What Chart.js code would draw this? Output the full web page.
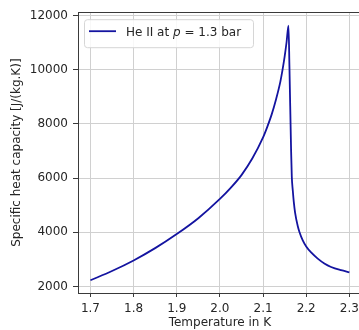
<!DOCTYPE html>
<html><head><meta charset="utf-8">
<script src="https://cdn.jsdelivr.net/npm/chart.js@4/dist/chart.umd.min.js"></script>
<style>
html,body{margin:0;padding:0;background:#fff;overflow:hidden;width:359px;height:330px}
#wrap{width:359px;height:330px;overflow:hidden;position:relative}
canvas{display:block}
</style></head><body>
<div id="wrap"><canvas id="c" width="364" height="330"></canvas></div>
<script>
const temperatures = [1.70,1.75,1.80,1.85,1.90,1.95,2.00,2.025,2.05,2.075,2.10,2.11,2.12,2.13,2.14,2.145,2.15,2.1546,2.1589,2.1612,2.165,2.1666,2.1689,2.1712,2.1743,2.1805,2.1843,2.192,2.20,2.2113,2.2267,2.242,2.2576,2.2807,2.30];
const heatCapacity = [2230,2570,2960,3415,3935,4520,5230,5640,6110,6720,7500,7900,8350,8900,9550,9980,10480,11030,11620,10050,7000,6050,5540,5120,4720,4220,4010,3700,3475,3255,3030,2850,2720,2600,2525];
const xTickValues = [1.7,1.8,1.9,2.0,2.1,2.2,2.3];
const yTickValues = [2000,4000,6000,8000,10000,12000];
const seriesLabel = ['He II at ', 'p', ' = 1.3 bar'];
const xTitle = 'Temperature in K';
const yTitle = 'Specific heat capacity [J/(kg.K)]';

const FONT = 'DejaVu Sans';
const TXT = '#262626';

const framePlugin = {
  id: 'frame',
  afterDatasetsDraw(chart) {
    const {ctx, chartArea: a} = chart;
    ctx.save();
    ctx.strokeStyle = '#3a3a3a';
    ctx.lineWidth = 1;
    ctx.strokeRect(Math.round(a.left) + 0.5, Math.round(a.top) + 0.5, Math.round(a.right - a.left), Math.round(a.bottom - a.top));
    // legend
    const bx = a.left + 6, by = a.top + 7, bh = 28, bw = 169;
    ctx.font = '12px "' + FONT + '"';
    const w1 = ctx.measureText(seriesLabel[0]).width;
    ctx.font = 'italic 12px "' + FONT + '"';
    const w2 = ctx.measureText(seriesLabel[1]).width;
    const tx = bx + 42;
    ctx.beginPath();
    ctx.roundRect(bx + 0.5, by + 0.5, bw, bh, 3);
    ctx.fillStyle = 'rgba(255,255,255,0.85)';
    ctx.fill();
    ctx.strokeStyle = '#d6d6d6';
    ctx.stroke();
    const ly = by + 12;
    ctx.beginPath();
    ctx.moveTo(bx + 5, ly); ctx.lineTo(bx + 32, ly);
    ctx.strokeStyle = chart.data.datasets[0].borderColor;
    ctx.lineWidth = 1.8;
    ctx.stroke();
    ctx.fillStyle = TXT;
    ctx.textBaseline = 'alphabetic';
    const base = by + 16.5;
    ctx.font = '12px "' + FONT + '"';
    ctx.fillText(seriesLabel[0], tx, base);
    ctx.font = 'italic 12px "' + FONT + '"';
    ctx.fillText(seriesLabel[1], tx + w1, base);
    ctx.font = '12px "' + FONT + '"';
    ctx.fillText(seriesLabel[2], tx + w1 + w2, base);
    ctx.restore();
  }
};

new Chart(document.getElementById('c'), {
  type: 'line',
  data: {
    datasets: [{
      label: seriesLabel.join(''),
      data: temperatures.map((t, i) => ({x: t, y: heatCapacity[i]})),
      borderColor: '#1414a0',
      borderWidth: 1.8,
      pointRadius: 0,
      fill: false,
      cubicInterpolationMode: 'monotone'
    }]
  },
  options: {
    responsive: false,
    animation: false,
    devicePixelRatio: 1,
    layout: {padding: {top: 10, right: 2, left: 0, bottom: 0}},
    plugins: {legend: {display: false}, tooltip: {enabled: false}},
    scales: {
      x: {
        type: 'linear', min: 1.6712, max: 2.3288,
        afterBuildTicks: s => { s.ticks = xTickValues.map(v => ({value: v})); },
        afterFit: s => { s.height = 37; },
        border: {display: false},
        grid: {color: '#d0d0d0', lineWidth: 1, drawTicks: true, tickLength: 4, tickColor: '#3a3a3a'},
        ticks: {color: TXT, font: {family: FONT, size: 12}, padding: 5, maxRotation: 0, autoSkip: false,
                callback: v => Number(v).toFixed(1)},
        title: {display: true, text: xTitle, color: TXT, font: {family: FONT, size: 12}, padding: {top: 0, bottom: 0}}
      },
      y: {
        type: 'linear', min: 1760, max: 12120,
        afterBuildTicks: s => { s.ticks = yTickValues.map(v => ({value: v})); },
        afterFit: s => { s.width = 78; },
        border: {display: false},
        grid: {color: '#d0d0d0', lineWidth: 1, drawTicks: true, tickLength: 5, tickColor: '#3a3a3a'},
        ticks: {color: TXT, font: {family: FONT, size: 12}, padding: 5, autoSkip: false,
                callback: v => String(v)},
        title: {display: true, text: yTitle, color: TXT, font: {family: FONT, size: 12}, padding: {top: 10, bottom: 0}}
      }
    }
  },
  plugins: [framePlugin]
});
</script>
</body></html>
